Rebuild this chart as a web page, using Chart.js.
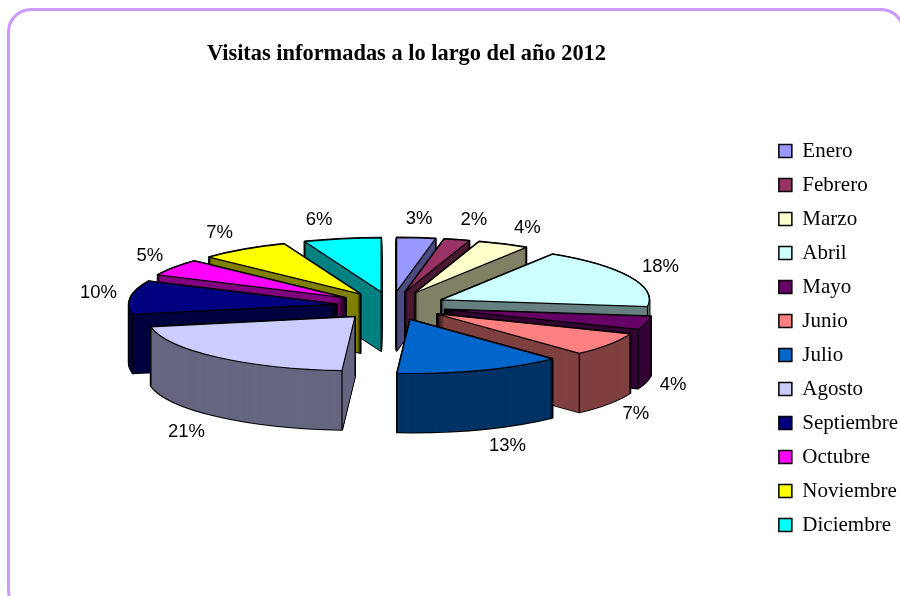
<!DOCTYPE html>
<html>
<head>
<meta charset="utf-8">
<style>
  html, body { margin: 0; padding: 0; width: 900px; height: 596px; overflow: hidden; background: #fff; }
  #marco { position: absolute; left: 7px; top: 8px; width: 892px; height: 600px; border: 3px solid #cc99ff; border-radius: 24px; }
  #myPieChart { position: absolute; left: 0; top: 0; }
</style>
</head>
<body>
<div id="marco"></div>
<canvas id="myPieChart" width="900" height="596"></canvas>
<script src="https://cdn.jsdelivr.net/npm/chart.js@4"></script>
<script>
const meses = ["Enero", "Febrero", "Marzo", "Abril", "Mayo", "Junio", "Julio", "Agosto", "Septiembre", "Octubre", "Noviembre", "Diciembre"];
const visitas = [3, 2, 4, 18, 4, 7, 13, 21, 10, 5, 7, 6];
const colores = ["#9999ff", "#993366", "#ffffcc", "#ccffff", "#660066", "#ff8080", "#0066cc", "#ccccff", "#000080", "#ff00ff", "#ffff00", "#00ffff"];
const coloresPared = ["#4c4c80", "#4c1933", "#808066", "#668080", "#330033", "#804040", "#003366", "#666680", "#000040", "#800080", "#808000", "#008080"];
// where each % label sits relative to the outer edge of its slice
const notaOffset = [[3, -19], [17, -20], [24, -16], [31, -10], [27, 3], [27, 11], [27, 17], [-31, 16], [-32, -4], [-24, -12], [-24, -16], [-23, -19]];

const squash = 0.26;
const depth = 59;
const slicePull = 55;

function geometry(arc) {
  const mid = (arc.startAngle + arc.endAngle) / 2;
  const pull = arc.options.offset;
  return {
    ax: arc.x + Math.cos(mid) * pull,
    ay: arc.y + Math.sin(mid) * pull * squash,
    r: arc.outerRadius,
    start: arc.startAngle,
    end: arc.endAngle,
    mid: mid,
  };
}

function facePath(ctx, g, d) {
  ctx.beginPath();
  ctx.moveTo(g.ax, g.ay + d);
  ctx.ellipse(g.ax, g.ay + d, g.r, g.r * squash, 0, g.start, g.end);
  ctx.closePath();
}

function fillFace(ctx, arc, g, color, d) {
  const saved = arc.options;
  // the pull is applied here, the Arc element would also grow small slices if it did it
  arc.options = Object.assign({}, saved, { backgroundColor: color, borderWidth: 0, offset: 0 });
  ctx.save();
  ctx.translate(g.ax - arc.x, g.ay + d);
  ctx.scale(1, squash);
  ctx.translate(0, -arc.y);
  arc.draw(ctx);
  ctx.restore();
  arc.options = saved;
}

// true when the wall under this corner is not hidden by the slice's own top
function wallShows(g, px, py) {
  const dx = px - g.ax;
  const dy = (py + 2 - g.ay) / squash;
  if (Math.hypot(dx, dy) > g.r) return true;
  let a = Math.atan2(dy, dx);
  while (a < g.start) a += Math.PI * 2;
  return a > g.end;
}

const pie3d = {
  id: "pie3d",
  afterLayout(chart) {
    // legend and title are placed by hand, the defaults do not fit this layout
    const legend = chart.legend;
    legend.left += 8; legend.right += 8;
    legend.top += 66; legend.bottom += 66;
    chart.titleBlock.left += 15; chart.titleBlock.right += 15;
  },
  beforeDatasetsDraw(chart) {
    const ctx = chart.ctx;
    const arcs = chart.getDatasetMeta(0).data.map((arc, i) => ({ arc, i, g: geometry(arc) }));
    arcs.sort((a, b) => Math.sin(a.g.mid) - Math.sin(b.g.mid));
    arcs.forEach(({ arc, i, g }) => {
      ctx.save();
      ctx.strokeStyle = "#000";
      ctx.lineJoin = "round";
      ctx.lineWidth = 2;
      for (let d = depth; d >= 0; d--) {
        facePath(ctx, g, d);
        ctx.stroke();
      }
      for (let d = depth; d > 0; d--) {
        fillFace(ctx, arc, g, coloresPared[i], d);
      }
      fillFace(ctx, arc, g, colores[i], 0);
      ctx.lineWidth = 1.2;
      facePath(ctx, g, 0);
      ctx.stroke();
      const corners = [
        [g.ax, g.ay],
        [g.ax + g.r * Math.cos(g.start), g.ay + g.r * squash * Math.sin(g.start)],
        [g.ax + g.r * Math.cos(g.end), g.ay + g.r * squash * Math.sin(g.end)],
      ];
      corners.forEach(([px, py]) => {
        if (wallShows(g, px, py)) {
          ctx.beginPath();
          ctx.moveTo(px, py);
          ctx.lineTo(px, py + depth);
          ctx.stroke();
        }
      });
      ctx.restore();
    });
    return false;
  },
  afterDraw(chart) {
    const ctx = chart.ctx;
    ctx.save();
    ctx.font = '18.5px "Liberation Sans"';
    ctx.fillStyle = "#000";
    ctx.textAlign = "center";
    ctx.textBaseline = "middle";
    chart.getDatasetMeta(0).data.forEach((arc, i) => {
      const g = geometry(arc);
      const x = g.ax + g.r * Math.cos(g.mid) + notaOffset[i][0];
      const front = Math.sin(g.mid) > 0 ? depth : 0;
      const y = g.ay + g.r * squash * Math.sin(g.mid) + front + notaOffset[i][1];
      ctx.fillText(visitas[i] + "%", x, y);
    });
    ctx.restore();
  },
};

const ctx = document.getElementById("myPieChart").getContext("2d");
const myPieChart = new Chart(ctx, {
  type: "pie",
  plugins: [pie3d],
  data: {
    labels: meses,
    datasets: [
      {
        data: visitas,
        backgroundColor: colores,
        borderColor: "#000",
        borderWidth: 1.5,
        offset: slicePull,
        radius: 208,
      },
    ],
  },
  options: {
    responsive: false,
    animation: false,
    events: [],
    layout: { padding: { left: 25, bottom: 52 } },
    plugins: {
      tooltip: { enabled: false },
      title: {
        display: true,
        text: "Visitas informadas a lo largo del año 2012",
        fullSize: false,
        color: "#000",
        font: { family: "Liberation Serif", size: 22.4, weight: "bold" },
        padding: { top: 41, bottom: 0 },
      },
      legend: {
        position: "right",
        labels: {
          boxWidth: 13,
          boxHeight: 13,
          padding: 13,
          color: "#000",
          font: { family: "Liberation Serif", size: 21 },
        },
      },
    },
  },
});
</script>
</body>
</html>
